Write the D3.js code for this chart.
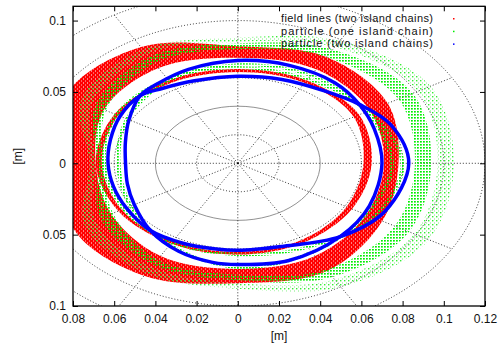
<!DOCTYPE html>
<html>
<head>
<meta charset="utf-8">
<script src="https://d3js.org/d3.v7.min.js"></script>
<style>
  body { margin: 0; background: #fff; }
  svg { display: block; font-family: "Liberation Sans", Arial, sans-serif; }
  .tick text { font-size: 12px; fill: #111; }
  .tick line { stroke: #000; }
  .grid { fill: none; stroke: #000; stroke-width: 1; stroke-dasharray: 1,2; opacity: 0.8; }
  .grid.solid { stroke: #777; stroke-dasharray: none; }
</style>
</head>
<body>
<script>
// polar angles (deg) the bands are read at
const angles = [0, 30, 60, 90, 120, 150, 180, 210, 240, 270, 300, 330];

// field lines (two island chains) - red
const redBandInner = [0.071, 0.074, 0.076, 0.074, 0.077, 0.075, 0.069, 0.071, 0.075, 0.074, 0.075, 0.072];
const redBandOuter = [0.078, 0.084, 0.086, 0.082, 0.094, 0.096, 0.084, 0.092, 0.091, 0.084, 0.087, 0.081];
const redRingInner = [0.061, 0.065, 0.065, 0.064, 0.065, 0.067, 0.066, 0.065, 0.063, 0.062, 0.062, 0.061];
const redRingOuter = [0.065, 0.068, 0.067, 0.066, 0.067, 0.069, 0.069, 0.067, 0.065, 0.064, 0.064, 0.064];

// particle (one island chain) - green
const greenArcAInner = [0.086, 0.090, 0.086, 0.080, 0.081, 0.074, 0.065, 0.070, 0.078, 0.078, 0.086, 0.088];
const greenArcAOuter = [0.094, 0.098, 0.092, 0.084, 0.086, 0.080, 0.068, 0.077, 0.082, 0.082, 0.092, 0.096];
const greenArcBInner = [0.097, 0.101, 0.094, 0.085, 0.088, 0.082, 0.069, 0.080, 0.084, 0.084, 0.094, 0.099];
const greenArcBOuter = [0.105, 0.108, 0.099, 0.088, 0.092, 0.088, 0.072, 0.086, 0.089, 0.088, 0.100, 0.107];
const greenRingAInner = [0.079, 0.072, 0.067, 0.066, 0.067, 0.067, 0.064, 0.063, 0.063, 0.063, 0.067, 0.075];
const greenRingAOuter = [0.081, 0.074, 0.069, 0.068, 0.069, 0.069, 0.066, 0.065, 0.065, 0.065, 0.069, 0.077];
const greenRingBInner = [0.074, 0.071, 0.070, 0.068, 0.066, 0.061, 0.057, 0.059, 0.065, 0.072, 0.071, 0.071];
const greenRingBOuter = [0.076, 0.073, 0.072, 0.070, 0.068, 0.063, 0.059, 0.061, 0.067, 0.074, 0.073, 0.073];

// particle (two island chains) - blue, two curves crossing at four X-points (35, 135, 228, 314 deg)
const blueAngles = [0, 20, 35, 50, 70, 90, 110, 125, 135, 150, 165, 180, 195, 210, 228, 245, 260, 270, 290, 314, 335];
const blueCurveA = [0.0700, 0.0705, 0.0720, 0.0735, 0.0730, 0.0720, 0.0700, 0.0680, 0.0670, 0.0610, 0.0565, 0.0545,
                    0.0555, 0.0580, 0.0634, 0.0680, 0.0705, 0.0710, 0.0725, 0.0715, 0.0705];
const blueCurveB = [0.0830, 0.0790, 0.0720, 0.0660, 0.0625, 0.0610, 0.0615, 0.0640, 0.0670, 0.0660, 0.0640, 0.0630,
                    0.0625, 0.0625, 0.0634, 0.0620, 0.0610, 0.0610, 0.0620, 0.0715, 0.0790];

const xTicks = [-0.08, -0.06, -0.04, -0.02, 0, 0.02, 0.04, 0.06, 0.08, 0.1, 0.12];
const yTicks = [-0.1, -0.05, 0, 0.05, 0.1];
const gridRadii = [0.02, 0.04, 0.06, 0.08, 0.1, 0.12];
const gridAngles = [0, 30, 60, 90, 120, 150, 180, 210, 240, 270, 300, 330];
const legendLabels = ["field lines (two island chains)", "particle (one island chain)", "particle (two island chains)"];

const width = 498, height = 347;
const margin = {top: 6.3, right: 13, bottom: 41, left: 73};

const svg = d3.select("body").append("svg")
    .attr("width", width)
    .attr("height", height);

const x = d3.scaleLinear().domain([-0.08, 0.12]).range([margin.left, width - margin.right]);
const y = d3.scaleLinear().domain([-0.1, 0.11]).range([height - margin.bottom, margin.top]);

const rad = d => d * Math.PI / 180;

const defs = svg.append("defs");
defs.append("clipPath").attr("id", "plot")
  .append("rect")
    .attr("x", x(-0.08)).attr("y", y(0.11))
    .attr("width", x(0.12) - x(-0.08)).attr("height", y(-0.1) - y(0.11));

// scatter textures
const redPat = defs.append("pattern").attr("id", "redDots")
    .attr("patternUnits", "userSpaceOnUse").attr("width", 4).attr("height", 4);
redPat.append("rect").attr("width", 4).attr("height", 4).attr("fill", "#ff0000");
redPat.append("rect").attr("x", 1).attr("y", 0.5).attr("width", 1).attr("height", 1).attr("fill", "#ffc0c0");
redPat.append("rect").attr("x", 3).attr("y", 2.5).attr("width", 1).attr("height", 1).attr("fill", "#fff");

const greenPat = defs.append("pattern").attr("id", "greenDots")
    .attr("patternUnits", "userSpaceOnUse").attr("width", 3).attr("height", 3);
greenPat.append("rect").attr("width", 1.8).attr("height", 1.6).attr("fill", "#00ee00");

const greenSparse = defs.append("pattern").attr("id", "greenSparse")
    .attr("patternUnits", "userSpaceOnUse").attr("width", 4).attr("height", 4);
greenSparse.append("rect").attr("width", 1.4).attr("height", 1.4).attr("fill", "#33ee33");
greenSparse.append("rect").attr("x", 2).attr("y", 2.5).attr("width", 1).attr("height", 1).attr("fill", "#77f077");

// closed curve through [angle, r] pairs
const closed = d3.line()
    .x(d => x(d[1] * Math.cos(rad(d[0]))))
    .y(d => y(d[1] * Math.sin(rad(d[0]))))
    .curve(d3.curveCatmullRomClosed.alpha(0.5));

const ring = (ang, rs) => closed(ang.map((a, i) => [a, rs[i]]));
const band = (inner, outer) => ring(angles, outer) + ring(angles, inner);

const g = svg.append("g").attr("clip-path", "url(#plot)");

// polar grid
g.selectAll(".circ")
  .data(gridRadii)
  .enter().append("ellipse")
    .attr("class", d => d === 0.04 ? "grid solid" : "grid")
    .attr("cx", x(0)).attr("cy", y(0))
    .attr("rx", d => x(d) - x(0))
    .attr("ry", d => y(0) - y(d));

g.selectAll(".spoke")
  .data(gridAngles)
  .enter().append("line")
    .attr("class", "grid")
    .attr("x1", x(0)).attr("y1", y(0))
    .attr("x2", d => x(0.12 * Math.cos(rad(d))))
    .attr("y2", d => y(0.12 * Math.sin(rad(d))));

// red
[[redBandInner, redBandOuter], [redRingInner, redRingOuter]].forEach(b => {
  g.append("path")
    .attr("d", band(b[0], b[1]))
    .attr("fill", "url(#redDots)")
    .attr("fill-rule", "evenodd");
});

// green
[[greenArcAInner, greenArcAOuter, "greenDots"], [greenArcBInner, greenArcBOuter, "greenSparse"],
 [greenRingAInner, greenRingAOuter, "greenDots"], [greenRingBInner, greenRingBOuter, "greenDots"]].forEach(b => {
  g.append("path")
    .attr("d", band(b[0], b[1]))
    .attr("fill", `url(#${b[2]})`)
    .attr("fill-rule", "evenodd");
});

// blue
[blueCurveA, blueCurveB].forEach(c => {
  g.append("path")
    .attr("d", ring(blueAngles, c))
    .attr("fill", "none")
    .attr("stroke", "#0000ff")
    .attr("stroke-width", 3.5);
});

// axes, ticks pointing inward like gnuplot
const fmt = d => String(+Math.abs(d).toFixed(3));

svg.append("g")
    .attr("transform", `translate(0,${y(-0.1)})`)
    .call(d3.axisBottom(x).tickValues(xTicks).tickSizeInner(-5).tickSizeOuter(0).tickPadding(8).tickFormat(fmt))
    .call(a => a.select(".domain").remove());

svg.append("g")
    .attr("transform", `translate(${x(-0.08)},0)`)
    .call(d3.axisLeft(y).tickValues(yTicks).tickSizeInner(-5).tickSizeOuter(0).tickPadding(7).tickFormat(fmt))
    .call(a => a.select(".domain").remove());

svg.append("g")
    .attr("transform", `translate(0,${y(0.11)})`)
    .call(d3.axisTop(x).tickValues(xTicks).tickSizeInner(-5).tickSizeOuter(0).tickFormat(""))
    .call(a => a.select(".domain").remove());

svg.append("g")
    .attr("transform", `translate(${x(0.12)},0)`)
    .call(d3.axisRight(y).tickValues(yTicks).tickSizeInner(-5).tickSizeOuter(0).tickFormat(""))
    .call(a => a.select(".domain").remove());

svg.append("rect")
    .attr("x", x(-0.08)).attr("y", y(0.11))
    .attr("width", x(0.12) - x(-0.08)).attr("height", y(-0.1) - y(0.11))
    .attr("fill", "none").attr("stroke", "#000").attr("stroke-width", 1.3);

// axis titles
svg.append("text")
    .attr("x", (x(-0.08) + x(0.12)) / 2).attr("y", 340)
    .attr("text-anchor", "middle").style("font-size", "12px").style("fill", "#111")
    .text("[m]");

svg.append("text")
    .attr("transform", `translate(22,${(y(0.11) + y(-0.1)) / 2}) rotate(-90)`)
    .attr("text-anchor", "middle").style("font-size", "12px").style("fill", "#111")
    .text("[m]");

// legend
const legendColors = ["#ff0000", "#00ee00", "#0000ff"];
const leg = svg.append("g").attr("transform", "translate(433,22)");
legendLabels.forEach((t, i) => {
  leg.append("text")
    .attr("x", 0).attr("y", i * 12.7)
    .attr("text-anchor", "end").style("font-size", "11px").style("fill", "#111")
    .attr("textLength", 152).attr("lengthAdjust", "spacing")
    .text(t);
  leg.append("rect")
    .attr("x", 20).attr("y", i * 12.7 - 4)
    .attr("width", 1.5).attr("height", 1.5)
    .attr("fill", legendColors[i]);
});
</script>
</body>
</html>
